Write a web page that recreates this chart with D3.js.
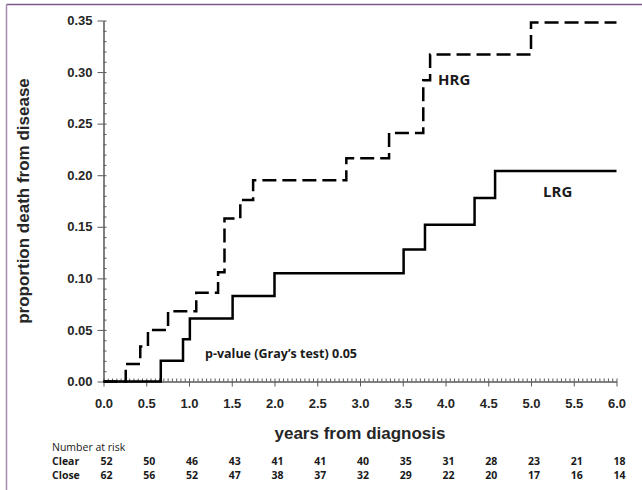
<!DOCTYPE html>
<html lang="en">
<head>
<meta charset="UTF-8">
<title>Cumulative incidence of death from disease</title>
<script src="https://d3js.org/d3.v7.min.js"></script>
<style>
    body { margin: 0; background: #fff; }
    svg { display: block; }
    .axis path, .axis line { stroke: #595959; stroke-width: 1; }
    .axis text { font-family: "Liberation Sans", Arial, sans-serif; font-weight: bold; font-size: 13px; fill: #262626; }
    .minor text { display: none; }
    .title { font-family: "Liberation Sans", Arial, sans-serif; font-weight: bold; font-size: 17px; fill: #262626; }
    .note { font-family: "Open Sans", "Noto Sans", sans-serif; font-weight: bold; fill: #1a1a1a; }
</style>
</head>
<body>
<svg id="chart" width="642" height="490"></svg>
<script>
    // HRG = dashed, LRG = solid (step functions, time in years)
    let hrgTimes  = [0, 0.26, 0.43, 0.52, 0.755, 1.085, 1.34, 1.415, 1.60, 1.75, 2.84, 3.34, 3.74, 3.82, 5.0, 6.0];
    let hrgValues = [0, 0.017, 0.034, 0.050, 0.068, 0.086, 0.106, 0.158, 0.176, 0.195, 0.2165, 0.241, 0.292, 0.317, 0.348, 0.348];
    let lrgTimes  = [0, 0.67, 0.93, 1.01, 1.51, 2.0, 3.51, 3.76, 4.34, 4.58, 6.0];
    let lrgValues = [0, 0.020, 0.041, 0.061, 0.083, 0.105, 0.128, 0.152, 0.178, 0.204, 0.204];

    let xTicks = [0, 0.5, 1, 1.5, 2, 2.5, 3, 3.5, 4, 4.5, 5, 5.5, 6];
    let yTicks = [0, 0.05, 0.10, 0.15, 0.20, 0.25, 0.30, 0.35];

    let riskTimes = [0, 0.5, 1, 1.5, 2, 2.5, 3, 3.5, 4, 4.5, 5, 5.5, 6];
    let riskClear = [52, 50, 46, 43, 41, 41, 40, 35, 31, 28, 23, 21, 18];
    let riskClose = [62, 56, 52, 47, 38, 37, 32, 29, 22, 20, 17, 16, 14];

    let svg = d3.select('#chart');

    // frame lines (top and left only)
    svg.append('line').attr('x1', 6.5).attr('x2', 642).attr('y1', 4.5).attr('y2', 4.5)
        .attr('stroke', '#7e5a8c').attr('stroke-width', 1.5);
    svg.append('line').attr('x1', 6.5).attr('x2', 6.5).attr('y1', 4.5).attr('y2', 490)
        .attr('stroke', '#a58bb0').attr('stroke-width', 1.5);

    let x = d3.scaleLinear().domain([0, 6]).range([103.5, 616.5]);
    let y = d3.scaleLinear().domain([0, 0.35]).range([381.5, 20.5]);

    // minor ticks
    svg.append('g').attr('class', 'axis minor').attr('transform', 'translate(0,381.5)')
        .call(d3.axisTop(x).tickValues(d3.range(0, 121).map(function (i) { return i * 0.05; })).tickSize(3).tickSizeOuter(0));
    svg.append('g').attr('class', 'axis minor').attr('transform', 'translate(103.5,0)')
        .call(d3.axisRight(y).tickValues(d3.range(0, 36).map(function (i) { return i * 0.01; })).tickSize(3).tickSizeOuter(0));

    // major axes
    svg.append('g').attr('class', 'axis').attr('transform', 'translate(0,381.5)')
        .call(d3.axisBottom(x).tickValues(xTicks).tickFormat(d3.format('.1f')).tickSize(5).tickSizeOuter(0).tickPadding(12));
    svg.append('g').attr('class', 'axis').attr('transform', 'translate(103.5,0)')
        .call(d3.axisLeft(y).tickValues(yTicks).tickFormat(d3.format('.2f')).tickSize(6).tickSizeOuter(0).tickPadding(5));

    let stepLine = d3.line()
        .x(function (d) { return x(d[0]); })
        .y(function (d) { return y(d[1]); })
        .curve(d3.curveStepAfter);

    svg.append('path').datum(d3.zip(lrgTimes, lrgValues))
        .attr('d', stepLine).attr('fill', 'none').attr('stroke', '#000').attr('stroke-width', 2.5);
    svg.append('path').datum(d3.zip(hrgTimes, hrgValues))
        .attr('d', stepLine).attr('fill', 'none').attr('stroke', '#000').attr('stroke-width', 2.5)
        .attr('stroke-dasharray', '14,6');

    // axis titles
    svg.append('text').attr('class', 'title').attr('x', 360).attr('y', 439)
        .attr('text-anchor', 'middle').text('years from diagnosis');
    svg.append('text').attr('class', 'title').attr('text-anchor', 'middle')
        .attr('transform', 'translate(28.5,201) rotate(-90)').text('proportion death from disease');

    // labels inside the plot
    svg.append('text').attr('class', 'note').attr('x', 438).attr('y', 85).attr('font-size', 15).text('HRG');
    svg.append('text').attr('class', 'note').attr('x', 543).attr('y', 197).attr('font-size', 15).text('LRG');
    svg.append('text').attr('class', 'note').attr('x', 205).attr('y', 358).attr('font-size', 12.5)
        .text('p-value (Gray\u2019s test) 0.05');

    // number at risk table
    let risk = svg.append('g').attr('class', 'note').attr('font-size', 10.5);
    risk.append('text').attr('x', 52).attr('y', 451).attr('font-weight', 'normal').text('Number at risk');
    risk.append('text').attr('x', 52).attr('y', 465).text('Clear');
    risk.append('text').attr('x', 52).attr('y', 479).text('Close');
    risk.selectAll('text.clear').data(riskClear).enter().append('text').attr('class', 'clear')
        .attr('x', function (d, i) { return x(riskTimes[i]) + 3; }).attr('y', 465)
        .attr('text-anchor', 'middle').text(function (d) { return d; });
    risk.selectAll('text.close').data(riskClose).enter().append('text').attr('class', 'close')
        .attr('x', function (d, i) { return x(riskTimes[i]) + 3; }).attr('y', 479)
        .attr('text-anchor', 'middle').text(function (d) { return d; });
</script>
</body>
</html>
